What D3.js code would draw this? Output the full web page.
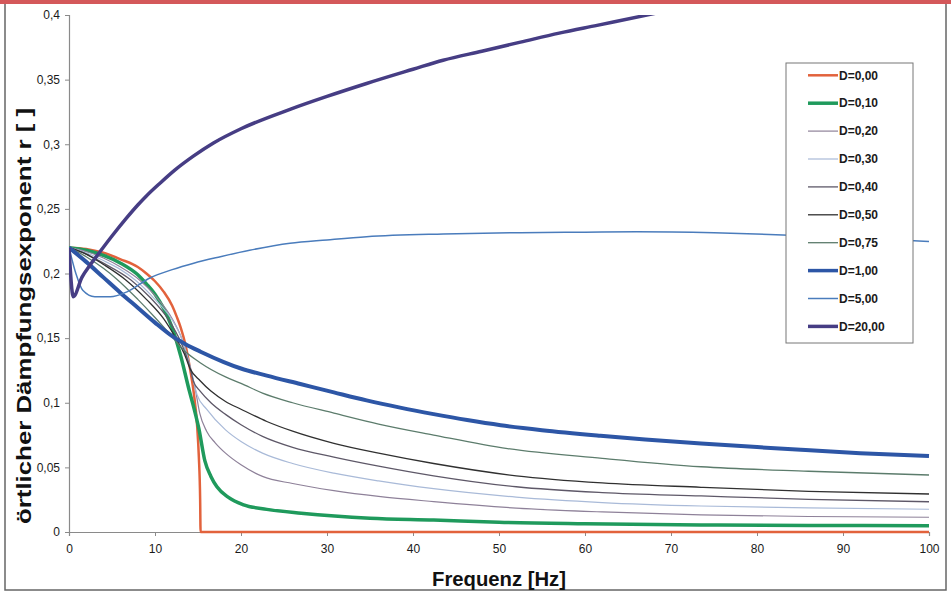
<!DOCTYPE html>
<html>
<head>
<meta charset="utf-8">
<script src="https://cdn.jsdelivr.net/npm/d3@7"></script>
<style>
  body { margin: 0; background: #fff; }
  svg { display: block; }
  text { font-family: "Liberation Sans", Arial, sans-serif; }
</style>
</head>
<body>
<svg id="chart" width="951" height="594"></svg>
<script>
// legend labels, one per curve
var labels = ["D=0,00", "D=0,10", "D=0,20", "D=0,30", "D=0,40", "D=0,50", "D=0,75", "D=1,00", "D=5,00", "D=20,00"];

// [Frequenz Hz, r]
var d000 = [[0,0.22],[2,0.219],[4,0.216],[6,0.211],[8,0.205],[9,0.2],[10,0.194],[11,0.186],[12,0.175],[12.5,0.167],[13,0.158],[13.5,0.146],[14,0.129],[14.5,0.108],[14.9,0.082],[15.1,0.058],[15.25,0.025],[15.3,0],[20,0],[100,0]];
var d010 = [[0,0.22],[2,0.218],[4,0.214],[6,0.208],[8,0.199],[9,0.192],[10,0.184],[11,0.173],[12,0.158],[13,0.136],[14,0.109],[14.6,0.094],[15.1,0.08],[15.8,0.055],[16.5,0.043],[17.2,0.035],[18.5,0.027],[20.3,0.021],[23,0.0175],[27,0.0145],[35,0.0106],[42.4,0.0092],[50,0.0075],[60,0.0064],[73.5,0.0055],[86,0.0051],[100,0.0049]];
var d020 = [[0,0.22],[2,0.217],[4,0.212],[6,0.205],[8.2,0.195],[10,0.183],[12,0.165],[13.2,0.148],[14.1,0.127],[14.7,0.11],[15.2,0.092],[16,0.078],[17,0.069],[18.2,0.061],[20,0.052],[22.5,0.043],[26,0.0375],[30.8,0.032],[36,0.0275],[42.4,0.0235],[52,0.0185],[62,0.0155],[73.5,0.0133],[86,0.012],[100,0.0114]];
var d030 = [[0,0.22],[2,0.216],[4,0.21],[6,0.203],[7.7,0.195],[10,0.18],[12,0.164],[13.2,0.148],[14.1,0.128],[14.9,0.106],[16,0.095],[18.2,0.079],[20,0.07],[22.5,0.061],[26,0.053],[30.8,0.0455],[36,0.0395],[42.4,0.0335],[52,0.027],[62,0.0228],[73.5,0.0201],[86,0.0186],[100,0.0176]];
var d040 = [[0,0.22],[2,0.215],[4,0.208],[7.2,0.195],[9.5,0.181],[11.5,0.165],[13,0.147],[14,0.129],[14.5,0.116],[15.25,0.109],[16.5,0.1],[18.2,0.091],[20,0.083],[22.5,0.074],[26,0.0655],[30.8,0.058],[36,0.051],[42.4,0.0435],[52,0.035],[62,0.0305],[73.5,0.0279],[86,0.0253],[100,0.0234]];
var d050 = [[0,0.22],[2,0.215],[4,0.207],[6.6,0.195],[9,0.18],[11,0.165],[12.5,0.149],[13.4,0.138],[14.1,0.126],[15.25,0.117],[16.5,0.109],[18.2,0.101],[20,0.095],[23,0.0855],[26,0.078],[30.8,0.0686],[36,0.061],[42.4,0.053],[52,0.0435],[62,0.038],[73.5,0.0346],[86,0.0315],[100,0.0294]];
var d075 = [[0,0.22],[2,0.213],[4,0.204],[5.5,0.196],[8,0.18],[10,0.166],[12,0.151],[13.3,0.141],[15.25,0.131],[18.2,0.12],[20,0.115],[22.5,0.1075],[26,0.1],[30.8,0.092],[36,0.0835],[42.4,0.075],[51,0.0645],[62,0.057],[73.5,0.0505],[86,0.047],[100,0.0441]];
var d100 = [[0,0.22],[2,0.209],[4,0.197],[6,0.185],[8,0.1735],[10,0.162],[12,0.1515],[13.5,0.1455],[15.3,0.1395],[18,0.1315],[20,0.1265],[23,0.121],[26.9,0.1145],[30.8,0.108],[34.6,0.1018],[38.5,0.0962],[42.4,0.0912],[46.3,0.0866],[50.2,0.0826],[55,0.0788],[61.8,0.0745],[67,0.0716],[73.5,0.0685],[80,0.0657],[85.1,0.0636],[92,0.061],[100,0.0588]];
var d500 = [[0,0.22],[0.8,0.2],[1.6,0.187],[3,0.182],[4.8,0.182],[6.8,0.186],[9.4,0.1965],[12,0.203],[14.5,0.208],[17.6,0.213],[21,0.218],[25.7,0.2234],[30,0.226],[34.6,0.2285],[43.5,0.2306],[52.5,0.2316],[60,0.232],[66,0.2323],[75,0.2315],[83,0.2298],[92,0.2275],[100,0.2248]];
var d2000 = [[0,0.22],[0.5,0.182],[1.5,0.197],[2.5,0.207],[3.4,0.215],[5,0.229],[6.7,0.243],[8,0.253],[9,0.26],[10.6,0.27],[12.3,0.28],[14.5,0.291],[16.8,0.301],[20,0.312],[25.7,0.327],[30,0.337],[34.6,0.347],[40,0.358],[43.5,0.365],[48,0.372],[52.5,0.379],[57,0.386],[61.4,0.392],[67.6,0.4005],[70,0.404]];

var xTicks = [0, 10, 20, 30, 40, 50, 60, 70, 80, 90, 100];
var yTicks = [0, 0.05, 0.1, 0.15, 0.2, 0.25, 0.3, 0.35, 0.4];

var series = [d000, d010, d020, d030, d040, d050, d075, d100, d500, d2000];
var colors = ["#e2623c", "#1f9a5c", "#8e8199", "#a9bad8", "#5e5868", "#303030", "#5c7c6c", "#2d56a6", "#4a7cbc", "#463d84"];
var widths = [2.5, 3.5, 1.2, 1.2, 1.3, 1.3, 1.3, 4, 1.5, 3.5];

var svg = d3.select("#chart");

// scan border + red strip at top
svg.append("rect").attr("x", 5).attr("y", 3).attr("width", 941).attr("height", 587)
  .attr("fill", "none").attr("stroke", "#666").attr("stroke-width", 1.5);
svg.append("rect").attr("x", 0).attr("y", 0).attr("width", 951).attr("height", 4)
  .attr("fill", "#d4585a");

var x = d3.scaleLinear().domain([0, 100]).range([69, 929]);
var y = d3.scaleLinear().domain([0, 0.4]).range([532, 15]);

svg.append("clipPath").attr("id", "plot")
  .append("rect").attr("x", 69).attr("y", 15).attr("width", 862).attr("height", 521);

// axes
var fmt = function(d) { return d3.format(".2~f")(d).replace(".", ","); };

var yAxis = svg.append("g")
  .attr("transform", "translate(69,0)")
  .call(d3.axisLeft(y).tickValues(yTicks).tickSize(4).tickPadding(5).tickFormat(fmt));

var xAxis = svg.append("g")
  .attr("transform", "translate(0,532)")
  .call(d3.axisBottom(x).tickValues(xTicks).tickSize(4).tickPadding(8).tickFormat(d3.format("d")));

[yAxis, xAxis].forEach(function(a) {
  a.select(".domain").attr("stroke", "#8a8a8a").attr("stroke-width", 1.2);
  a.selectAll(".tick line").attr("stroke", "#8a8a8a");
  a.selectAll(".tick text").attr("fill", "#1a1a1a").style("font-size", "12px");
});

// curves
var line = d3.line()
  .x(function(d) { return x(d[0]); })
  .y(function(d) { return y(d[1]); })
  .curve(d3.curveMonotoneX);

svg.append("g").attr("clip-path", "url(#plot)")
  .selectAll("path.curve").data(series)
  .enter()
  .append("path")
  .classed("curve", true)
  .attr("d", line)
  .attr("fill", "none")
  .attr("stroke", function(d, i) { return colors[i]; })
  .attr("stroke-width", function(d, i) { return widths[i]; })
  .attr("stroke-linejoin", "round");

// axis titles
svg.append("text")
  .attr("x", 499).attr("y", 586)
  .attr("text-anchor", "middle")
  .style("font-size", "20px").style("font-weight", "bold")
  .attr("fill", "#111")
  .attr("textLength", 134).attr("lengthAdjust", "spacingAndGlyphs")
  .text("Frequenz [Hz]");

svg.append("text")
  .attr("transform", "translate(31,316) rotate(-90)")
  .attr("text-anchor", "middle")
  .style("font-size", "20px").style("font-weight", "bold")
  .attr("fill", "#111")
  .attr("textLength", 416).attr("lengthAdjust", "spacingAndGlyphs")
  .text("örtlicher Dämpfungsexponent r [ ]");

// legend
var legend = svg.append("g").attr("transform", "translate(786,63)");
legend.append("rect")
  .attr("width", 127).attr("height", 280)
  .attr("fill", "#fff").attr("stroke", "#777").attr("stroke-width", 1);

var items = legend.selectAll("g.item").data(labels)
  .enter()
  .append("g")
  .classed("item", true)
  .attr("transform", function(d, i) { return "translate(0," + (12.3 + i * 27.9) + ")"; });

items.append("line")
  .attr("x1", 22).attr("x2", 52)
  .attr("stroke", function(d, i) { return colors[i]; })
  .attr("stroke-width", function(d, i) { return Math.min(widths[i], 3.5); });

items.append("text")
  .attr("x", 53).attr("dy", "0.35em")
  .style("font-size", "12px").style("font-weight", "bold")
  .attr("fill", "#1a1a1a")
  .text(function(d) { return d; });
</script>
</body>
</html>
